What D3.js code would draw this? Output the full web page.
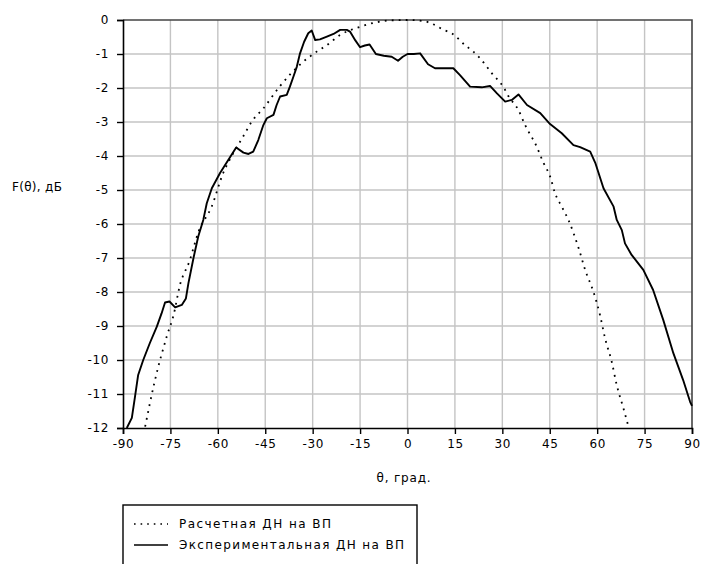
<!DOCTYPE html>
<html>
<head>
<meta charset="utf-8">
<script src="https://cdn.jsdelivr.net/npm/d3@7"></script>
<style>
  body { margin: 0; background: #fff; }
  text { font-family: "DejaVu Sans", Arial, sans-serif; fill: #000; }
</style>
</head>
<body>
<div id="chart"></div>
<script>
// Calculated pattern (dotted)
var calcTheta = [-83, -80, -76, -74, -72, -69, -66, -62, -58.3, -55, -52, -49.3, -45.6, -40.3, -33.5, -28.7, -25.5, -21.3, -15, -10, -5, 0, 5, 8, 11.4, 14, 18.2, 20.8, 23, 26.7, 30.4, 32, 35.1, 37.2, 40.9, 43, 45.1, 46.7, 48.8, 50.9, 54.1, 56.2, 58.8, 60.9, 62.5, 64.6, 66.2, 68.3, 69.9];
var calcDb = [-11.96, -10.64, -9.26, -8.68, -7.8, -7.1, -6.2, -5.5, -4.5, -3.9, -3.43, -2.99, -2.6, -1.94, -1.27, -0.93, -0.74, -0.44, -0.2, -0.07, -0.01, 0, -0.03, -0.12, -0.29, -0.39, -0.74, -0.93, -1.13, -1.57, -1.98, -2.25, -2.65, -3.09, -3.73, -4.2, -4.6, -5.1, -5.49, -5.88, -6.7, -7.35, -7.99, -8.68, -9.36, -10.05, -10.74, -11.42, -11.96];

// Measured pattern (solid)
var expTheta = [-88.8, -87.2, -86.2, -85.2, -83.6, -81.5, -79.3, -77.8, -76.7, -75.3, -73.5, -71.4, -70.1, -69.3, -67.7, -66.2, -64.6, -63.5, -61.9, -59.3, -56.7, -54.2, -51.9, -50.3, -48.8, -47.2, -45.6, -44.5, -42.4, -41.4, -40.3, -38.2, -37.2, -36.1, -35.0, -34.0, -32.7, -31.4, -30.3, -29.2, -27.7, -25.5, -23.4, -21.3, -19.2, -18.2, -16.5, -15, -13.5, -12, -10, -7.5, -5, -3, -1.5, 0, 2, 4, 6.5, 8.7, 10.3, 14.5, 16.6, 19.8, 23.5, 26.1, 28.3, 30.9, 33, 35.1, 37.8, 42, 45.1, 48.8, 52.5, 54.6, 57.8, 59.4, 62, 65.2, 66.2, 67.8, 68.8, 70.9, 74.6, 77.7, 80.9, 84.1, 87.2, 89.4, 90];
var expDb = [-12.0, -11.7, -11.08, -10.44, -10.0, -9.5, -9.02, -8.63, -8.31, -8.28, -8.45, -8.38, -8.19, -7.74, -7.0, -6.37, -5.88, -5.39, -4.95, -4.5, -4.12, -3.75, -3.9, -3.94, -3.87, -3.53, -3.09, -2.89, -2.79, -2.5, -2.25, -2.2, -1.96, -1.67, -1.37, -0.98, -0.64, -0.39, -0.31, -0.59, -0.57, -0.49, -0.41, -0.29, -0.29, -0.34, -0.6, -0.8, -0.75, -0.72, -1.0, -1.05, -1.08, -1.2, -1.08, -1.0, -1.0, -0.98, -1.3, -1.42, -1.42, -1.42, -1.62, -1.96, -1.98, -1.94, -2.16, -2.4, -2.35, -2.19, -2.5, -2.74, -3.06, -3.33, -3.68, -3.74, -3.87, -4.2, -4.95, -5.49, -5.88, -6.18, -6.57, -6.91, -7.35, -7.94, -8.82, -9.8, -10.59, -11.23, -11.35];

var xTicks = [-90, -75, -60, -45, -30, -15, 0, 15, 30, 45, 60, 75, 90];
var yTicks = [0, -1, -2, -3, -4, -5, -6, -7, -8, -9, -10, -11, -12];
var legendNames = ["Расчетная ДН на ВП", "Экспериментальная ДН на ВП"];

var svgWidth = 702;
var svgHeight = 564;

var margin = { top: 20, right: 10, bottom: 136, left: 123 };
var width = 692 - margin.left;
var height = 428 - margin.top;

var svg = d3.select("#chart")
  .append("svg")
  .attr("width", svgWidth)
  .attr("height", svgHeight);

var chartGroup = svg.append("g")
  .attr("transform", `translate(${margin.left}, ${margin.top})`);

var xScale = d3.scaleLinear().domain([-90, 90]).range([0, width]);
var yScale = d3.scaleLinear().domain([-12, 0]).range([height, 0]);

// grid lines
chartGroup.append("g")
  .selectAll("line.vgrid")
  .data(xTicks.slice(1, -1))
  .enter()
  .append("line")
  .attr("x1", d => xScale(d)).attr("x2", d => xScale(d))
  .attr("y1", 0).attr("y2", height)
  .attr("stroke", "#c4c4c4")
  .attr("stroke-width", 1.4);

chartGroup.append("g")
  .selectAll("line.hgrid")
  .data(yTicks.slice(1, -1))
  .enter()
  .append("line")
  .attr("x1", 0).attr("x2", width)
  .attr("y1", d => yScale(d)).attr("y2", d => yScale(d))
  .attr("stroke", "#c4c4c4")
  .attr("stroke-width", 1.4);

// plot area border (top and right)
chartGroup.append("path")
  .attr("d", `M0,0H${width}V${height}`)
  .attr("fill", "none")
  .attr("stroke", "#444")
  .attr("stroke-width", 1.6);

// axes (plain hyphen for negatives, like the original)
var bottomAxis = d3.axisBottom(xScale).tickValues(xTicks).tickFormat(d => String(d)).tickSize(6).tickPadding(5);
var leftAxis = d3.axisLeft(yScale).tickValues(yTicks).tickFormat(d => String(d)).tickSize(6).tickPadding(8);

var xAxis = chartGroup.append("g")
  .attr("transform", `translate(0, ${height})`)
  .call(bottomAxis);

var yAxis = chartGroup.append("g")
  .call(leftAxis);

[xAxis, yAxis].forEach(function(ax) {
  ax.select(".domain").attr("stroke", "#000").attr("stroke-width", 1.6);
  ax.selectAll(".tick line").attr("stroke", "#000").attr("stroke-width", 1.4);
  ax.selectAll(".tick text")
    .attr("font-family", "DejaVu Sans, Arial, sans-serif")
    .attr("font-size", "12px")
    .attr("letter-spacing", "0.6px")
    .attr("fill", "#000");
});

// lines
var calcData = calcTheta.map((t, i) => [t, calcDb[i]]);
var expData = expTheta.map((t, i) => [t, expDb[i]]);

var line = d3.line()
  .x(d => xScale(d[0]))
  .y(d => yScale(d[1]))
  .curve(d3.curveMonotoneX);

chartGroup.append("path")
  .datum(calcData)
  .attr("d", line)
  .attr("fill", "none")
  .attr("stroke", "#000")
  .attr("stroke-width", 1.8)
  .attr("stroke-dasharray", "1.8 5.2");

var line2 = d3.line()
  .x(d => xScale(d[0]))
  .y(d => yScale(d[1]));

chartGroup.append("path")
  .datum(expData)
  .attr("d", line2)
  .attr("fill", "none")
  .attr("stroke", "#000")
  .attr("stroke-width", 1.9)
  .attr("stroke-linejoin", "round");

// axis titles
svg.append("text")
  .attr("x", 12)
  .attr("y", 191)
  .attr("font-size", "12px")
  .attr("letter-spacing", "0.3px")
  .text("F(θ), дБ");

svg.append("text")
  .attr("x", 404)
  .attr("y", 482)
  .attr("text-anchor", "middle")
  .attr("font-size", "12px")
  .attr("letter-spacing", "0.8px")
  .text("θ, град.");

// legend
var legend = svg.append("g");

legend.append("rect")
  .attr("x", 123)
  .attr("y", 505)
  .attr("width", 294)
  .attr("height", 80)
  .attr("fill", "#fff")
  .attr("stroke", "#000")
  .attr("stroke-width", 1.4);

var legendY = [524, 545];
var legendTextLen = [152, 225];

legend.selectAll("line.sample")
  .data(legendNames)
  .enter()
  .append("line")
  .attr("x1", 134).attr("x2", 168)
  .attr("y1", (d, i) => legendY[i]).attr("y2", (d, i) => legendY[i])
  .attr("stroke", "#000")
  .attr("stroke-width", 1.6)
  .attr("stroke-dasharray", (d, i) => i === 0 ? "1.6 5" : null);

legend.selectAll("text.name")
  .data(legendNames)
  .enter()
  .append("text")
  .attr("x", 179)
  .attr("y", (d, i) => legendY[i] + 4)
  .attr("font-size", "12px")
  .attr("textLength", (d, i) => legendTextLen[i])
  .attr("lengthAdjust", "spacing")
  .text(d => d);
</script>
</body>
</html>
